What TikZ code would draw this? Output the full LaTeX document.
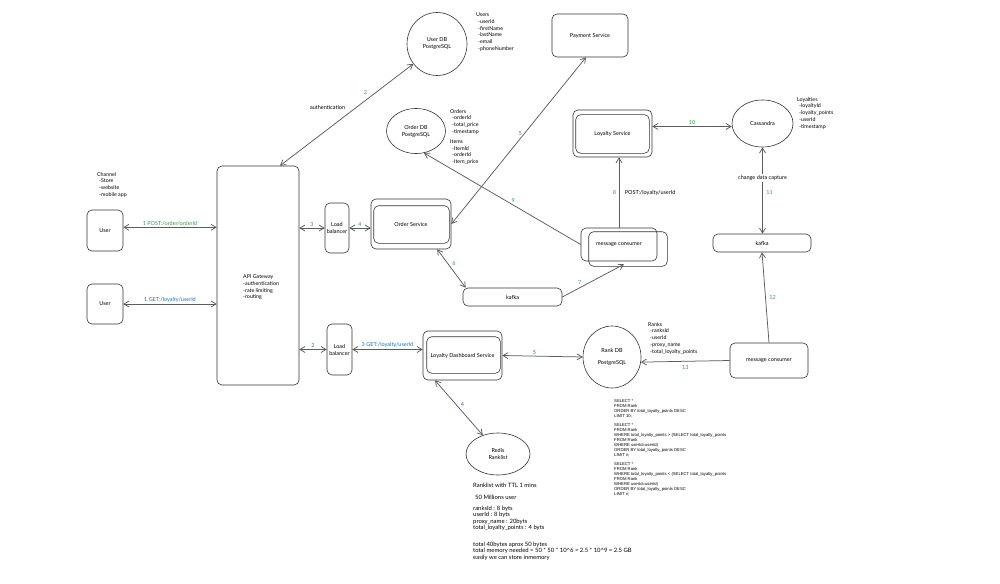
\documentclass[tikz,border=0pt]{standalone}
\usepackage{fontspec}
\setmainfont{Lato}
\newfontfamily\sqlfont{Liberation Sans}
\usetikzlibrary{shapes.geometric,arrows.meta,calc}
\definecolor{ink}{HTML}{333333}
\definecolor{okgreen}{HTML}{2F9E44}
\definecolor{okblue}{HTML}{1971C2}
\newcommand{\noteind}{\hspace*{2pt}}
\tikzset{
  frame/.style={draw=ink,line width=0.6pt,rounded corners=5pt},
  box/.style={frame,align=center,inner sep=1pt,font=\fontsize{5.5}{7}\selectfont},
  dbase/.style={draw=ink,line width=0.6pt,ellipse,inner sep=0pt,align=center,font=\fontsize{5.5}{7}\selectfont},
  note/.style={anchor=north west,align=left,inner sep=0pt,font=\fontsize{5.3}{6.8}\selectfont},
  link/.style={draw=ink!80,line width=0.75pt},
  lbl/.style={inner sep=1.5pt,font=\fontsize{5.5}{6}\selectfont},
  grn/.style={lbl,text=okgreen},
  blu/.style={lbl,text=okblue},
}
\begin{document}
\begin{tikzpicture}[x=1pt,y=-1pt,>={Straight Barb[length=5pt,width=6pt]}]
\useasboundingbox[fill=white] (0,0) rectangle (1000,583);

% clients
\node[box,minimum width=36pt,minimum height=41pt] (u1) at (105,230.5) {User};
\node[box,minimum width=36pt,minimum height=40pt] (u2) at (105,304) {User};
\node[note] (channel) at (97,172) {Channel\\\noteind-Store\\\noteind-website\\\noteind-mobile app};

% gateway and balancers
\node[box,minimum width=82pt,minimum height=219pt] (api) at (258,275.5) {};
\node[note] (apitext) at (243,274.5) {API Gateway\\-authentication\\-rate limiting\\-routing};
\node[box,minimum width=24pt,minimum height=50pt] (lb1) at (337,228) {Load\\balancer};
\node[box,minimum width=25pt,minimum height=51pt] (lb2) at (339.5,349.5) {Load\\balancer};

% services
\node[box,minimum width=80pt,minimum height=50pt] (os) at (411,224) {Order Service};
\draw[frame] ($(os.south west)+(3,-6)$) rectangle ($(os.north east)+(-2,7)$);
\node[box,minimum width=76pt,minimum height=43pt] (payment) at (590,35.5) {Payment Service};
\node[box,minimum width=79pt,minimum height=47pt] (ls) at (612.5,133.5) {Loyalty Service};
\draw[frame] ($(ls.south west)+(3,-4)$) rectangle ($(ls.north east)+(-3,5)$);
\node[box,minimum width=76pt,minimum height=33pt] (mc) at (619,244.5) {message consumer};
\draw[frame] ($(mc.south west)+(8,5)$) rectangle ($(mc.north east)+(10,4)$);
\node[box,minimum width=99pt,minimum height=18pt] (kafka1) at (512.5,297) {kafka};
\node[box,minimum width=79pt,minimum height=49pt] (lds) at (462.5,355.5) {Loyalty Dashboard Service};
\draw[frame] ($(lds.south west)+(4,-7)$) rectangle ($(lds.north east)+(-2,6)$);
\node[box,minimum width=98pt,minimum height=18pt] (kafka2) at (762,243) {kafka};
\node[box,minimum width=78pt,minimum height=35pt] (mc2) at (769,360.5) {message consumer};

% stores
\node[dbase,minimum width=60pt,minimum height=63pt] (userdb) at (437,44) {User DB\\PostgreSQL};
\node[dbase,minimum width=59pt,minimum height=45pt] (orderdb) at (416,131) {Order DB\\PostgreSQL};
\node[dbase,minimum width=61pt,minimum height=47pt] (cass) at (762.5,123.5) {Cassandra};
\node[dbase,minimum width=58pt,minimum height=62pt] (rankdb) at (612,357) {Rank DB\\[5pt]PostgreSQL};
\node[dbase,minimum width=64pt,minimum height=42pt] (redis) at (498,454) {Redis\\Ranklist};

% tables
\node[note] (usersnote) at (476,12.5) {Users\\\noteind-userId\\\noteind-firstName\\\noteind-lastName\\\noteind-email\\\noteind-phoneNumber};
\node[note] (ordersnote) at (450,109) {Orders\\\noteind-orderId\\\noteind-total\_price\\\noteind-timestamp\\[3pt]Items\\\noteind-ItemId\\\noteind-orderId\\\noteind-Item\_price};
\node[note] (loyaltiesnote) at (797,97) {Loyalties\\\noteind-loyaltyId\\\noteind-loyalty\_points\\\noteind-userId\\\noteind-timestamp};
\node[note] (ranksnote) at (648,322) {Ranks\\\noteind-ranksId\\\noteind-userId\\\noteind-proxy\_name\\\noteind-total\_loyalty\_points};
\node[note,font=\sqlfont\fontsize{4.2}{5}\selectfont] (sqlnote) at (614,399.5) {SELECT *\\FROM Rank\\ORDER BY total\_loyalty\_points DESC\\LIMIT 10;\\[4pt]
SELECT *\\FROM Rank\\WHERE total\_loyalty\_points > (SELECT total\_loyalty\_points\\FROM Rank\\WHERE userId=userId)\\ORDER BY total\_loyalty\_points DESC\\LIMIT n;\\[4pt]
SELECT *\\FROM Rank\\WHERE total\_loyalty\_points < (SELECT total\_loyalty\_points\\FROM Rank\\WHERE userId=userId)\\ORDER BY total\_loyalty\_points DESC\\LIMIT n;};
\node[note,font=\fontsize{5.9}{6.3}\selectfont] (sizenote) at (473,483) {Ranklist with TTL 1 mins\\[5.7pt]
\noteind 50 Millions user\\[4.7pt]
ranksId : 8 byts\\userId : 8 byts\\proxy\_name : 20byts\\total\_loyalty\_points : 4 byts\\[10.7pt]
total 40bytes aprox 50 bytes\\total memory needed = 50 * 50 * 10\textasciicircum 6 = 2.5 * 10\textasciicircum 9 = 2.5 GB\\easily we can store inmemory};

% order flow
\draw[link,<->] (u1.10) -- (u1.10 -| api.west) node[grn,midway,above] {1 POST:/order/orderId};
\draw[link,<->] ([xshift=22pt]api.north) -- (userdb.220)
  node[lbl,pos=0.57,left=9pt] {authentication}
  node[grn,pos=0.72,left=7pt] {2};
\draw[link,<->] (api.east |- lb1.west) -- (lb1.west) node[grn,midway,above] {3};
\draw[link,<->] (lb1.east) -- (lb1.east -| os.west) node[grn,midway,above] {4};
\draw[link,<->] (os.east) -- ([xshift=-4pt]payment.south) node[grn,pos=0.545,left=1pt] {5};
\draw[link,<->] (os.-44) -- ([xshift=3pt]kafka1.north west) node[grn,pos=0.36,right=3pt] {6};
\draw[link,->] (kafka1.east) -- ([shift={(5pt,-3pt)}]mc.south) node[grn,pos=0.34,above left=0pt] {7};
\draw[link,->] (mc.north) -- (mc.north |- ls.south)
  node[grn,midway,left=1pt] {8}
  node[lbl,midway,right=4pt] {POST:/loyalty/userId};
\draw[link,->] (mc.west) -- (orderdb.290) node[grn,pos=0.43,above=1pt] {9};
\draw[link,<->] (ls.10) -- (ls.10 -| cass.west) node[grn,midway,above] {10};
\draw[link,<->] (cass.south) -- (cass.south |- kafka2.north)
  node[lbl,pos=0.36,fill=white] {change data capture}
  node[grn,pos=0.52,right=2pt] {11};
\draw[link,->] (mc2.north) -- (kafka2.south) node[grn,midway,right=2pt] {12};
\draw[link,->] (mc2.west) -- (rankdb.-10) node[grn,midway,below=2pt] {13};

% loyalty flow
\draw[link,<->] (u2.east) -- (u2.east -| api.west) node[blu,midway,above] {1 GET:/loyalty/userId};
\draw[link,<->] (api.east |- lb2.west) -- (lb2.west) node[blu,midway,above] {2};
\draw[link,<->] (lb2.east) -- (lb2.east -| lds.west) node[blu,midway,above] {3 GET:/loyalty/userId};
\draw[link,<->] (lds.222) -- (redis.129) node[blu,pos=0.44,right=3pt] {4};
\draw[link,<->] (lds.east) -- (rankdb.west) node[blu,pos=0.4,above] {5};
\end{tikzpicture}
\end{document}
